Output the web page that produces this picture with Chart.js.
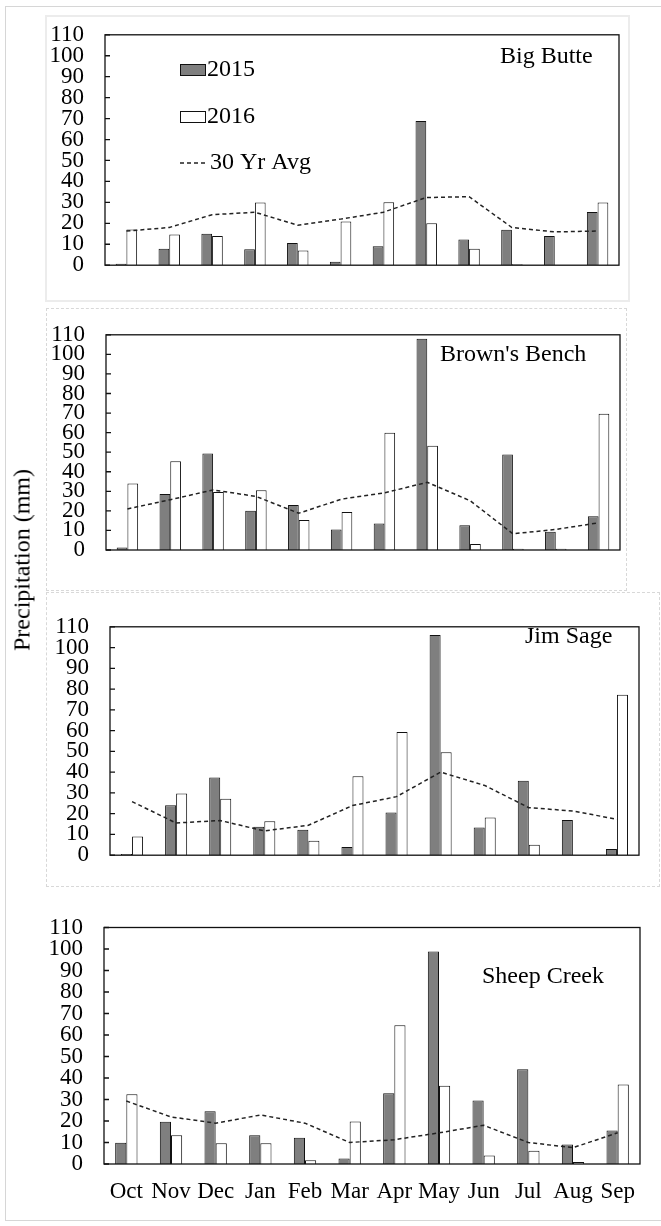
<!DOCTYPE html>
<html>
<head>
<meta charset="utf-8">
<script src="https://cdn.jsdelivr.net/npm/chart.js@4.4.1/dist/chart.umd.min.js"></script>
<style>
  body { margin:0; background:#fff; overflow:hidden; width:661px; height:1226px; position:relative; font-family:"Liberation Serif","DejaVu Serif",serif; }
  .marco { position:absolute; box-sizing:border-box; }
  canvas { position:absolute; left:0; }
  #ytitle { position:absolute; left:22px; top:560px; transform:translate(-50%,-50%) rotate(-90deg); font-size:24px; white-space:nowrap; color:#000; }
</style>
</head>
<body>
<div class="marco" style="left:5px;top:6px;width:700px;height:1215px;border:1px solid #d6d6d6"></div>
<div class="marco" style="left:45px;top:15px;width:585px;height:287px;border:2px solid #ececec"></div>
<div class="marco" style="left:46px;top:308px;width:581px;height:283px;border:1px dashed #d8d8d8"></div>
<div class="marco" style="left:46px;top:592px;width:614px;height:295px;border:1px dashed #d8d8d8"></div>
<canvas id="g1" width="661" height="300" style="top:0px"></canvas>
<canvas id="g2" width="661" height="292" style="top:300px"></canvas>
<canvas id="g3" width="661" height="298" style="top:592px"></canvas>
<canvas id="g4" width="661" height="336" style="top:890px"></canvas>
<div id="ytitle">Precipitation (mm)</div>
<script>
// Datos (mm)
var months = ["Oct", "Nov", "Dec", "Jan", "Feb", "Mar", "Apr", "May", "Jun", "Jul", "Aug", "Sep"];
var yTicksMax = 110;

var bigButte2015 = [0.7, 7.9, 15, 7.6, 10.6, 1.7, 9.1, 68.9, 12.3, 16.9, 14, 25.4];
var bigButte2016 = [17, 14.6, 14, 29.9, 7, 20.9, 30.1, 20, 7.9, 0.5, 0, 29.9];
var bigButteAvg = [16.3, 18, 24.1, 25.3, 19.1, 22, 25.3, 32.3, 32.7, 18, 15.9, 16.3];

var brownsBench2015 = [1.3, 28.6, 49.3, 20, 23, 10.5, 13.6, 108, 12.6, 48.8, 9.3, 17.2];
var brownsBench2016 = [34, 45.4, 29.7, 30.6, 15.3, 19.4, 59.9, 53.3, 3.1, 0.6, 0.6, 69.7];
var brownsBenchAvg = [21, 25.7, 30.7, 27.4, 18.8, 26, 29.2, 34.6, 25.2, 8.3, 10.5, 13.9];

var jimSage2015 = [0.6, 24, 37.4, 13.7, 12.2, 3.9, 20.6, 106, 13.4, 35.9, 17, 3];
var jimSage2016 = [9, 29.7, 27.2, 16.4, 7, 38, 59.3, 49.6, 18.1, 5, 0, 77.3];
var jimSageAvg = [25.8, 15.5, 16.7, 11.7, 14.4, 23.9, 28.2, 40, 33.6, 22.9, 21.3, 17.3];

var sheepCreek2015 = [9.9, 19.6, 24.5, 13.4, 12.2, 2.6, 32.9, 98.8, 29.5, 44.1, 9.1, 15.6];
var sheepCreek2016 = [32.4, 13.4, 9.7, 9.7, 1.7, 19.8, 64.5, 36.4, 4, 6.2, 0.9, 37];
var sheepCreekAvg = [29.3, 21.9, 19, 22.8, 19, 10, 11.3, 14.5, 18, 10, 7.6, 14.5];

var fuente = '"Liberation Serif", "DejaVu Serif", serif';

// Marco del area, ticks hacia dentro, titulo del panel y leyenda
var marcoPlugin = {
  id: "marco",
  afterDatasetsDraw: function (chart, args, opts) {
    var ctx = chart.ctx;
    var a = chart.chartArea;
    ctx.save();
    ctx.strokeStyle = "#111";
    ctx.lineWidth = 1.3;
    ctx.setLineDash([]);
    ctx.strokeRect(a.left, a.top, a.right - a.left, a.bottom - a.top);
    var ys = chart.scales.y;
    ctx.beginPath();
    for (let t of ys.ticks) {
      let py = ys.getPixelForValue(t.value);
      ctx.moveTo(a.left, py);
      ctx.lineTo(a.left + 5, py);
    }
    ctx.stroke();

    ctx.fillStyle = "#000";
    ctx.font = "24px " + fuente;
    ctx.textBaseline = "alphabetic";
    ctx.textAlign = "left";
    ctx.fillText(opts.title, opts.tx, opts.ty);

    if (opts.legend) {
      var filas = [70, 117, 163];
      ctx.textBaseline = "middle";
      chart.data.datasets.forEach(function (ds, i) {
        let y = filas[i];
        if (ds.type == "line") {
          ctx.strokeStyle = ds.borderColor;
          ctx.lineWidth = ds.borderWidth;
          ctx.setLineDash(ds.borderDash);
          ctx.beginPath();
          ctx.moveTo(180, y);
          ctx.lineTo(208, y);
          ctx.stroke();
          ctx.setLineDash([]);
          ctx.fillText(ds.label, 210, y);
        } else {
          ctx.fillStyle = ds.backgroundColor;
          ctx.fillRect(180, y - 6, 26, 12);
          ctx.strokeStyle = "#111";
          ctx.lineWidth = 1;
          ctx.strokeRect(180.5, y - 5.5, 25, 11);
          ctx.fillStyle = "#000";
          ctx.fillText(ds.label, 207, y);
        }
      });
    }
    ctx.restore();
  }
};

function crearPanel(id, p, d2015, d2016, avg) {
  var ctx = document.getElementById(id).getContext("2d");
  var alto = document.getElementById(id).height;
  var t = p.t - p.top, b = p.b - p.top;
  return new Chart(ctx, {
    type: "bar",
    data: {
      labels: months,
      datasets: [
        { label: "2015", data: d2015, backgroundColor: "#7f7f7f", borderColor: "#111", borderWidth: 1, order: 1, barPercentage: 1, categoryPercentage: 0.5 },
        { label: "2016", data: d2016, backgroundColor: "#ffffff", borderColor: "#111", borderWidth: 1, order: 1, barPercentage: 1, categoryPercentage: 0.5 },
        { type: "line", label: "30 Yr Avg", data: avg, borderColor: "#222", borderWidth: 1.5, borderDash: [4, 3], pointRadius: 0, fill: false, tension: 0, order: 0 }
      ]
    },
    options: {
      responsive: false,
      animation: false,
      devicePixelRatio: 1,
      layout: { padding: { top: t, left: 0, right: 661 - p.r, bottom: p.showX ? 0 : alto - b } },
      plugins: {
        legend: { display: false },
        tooltip: { enabled: false },
        marco: { title: p.title, tx: p.tx, ty: p.ty, legend: p.legend }
      },
      scales: {
        x: {
          display: p.showX,
          offset: true,
          grid: { display: false, drawTicks: false },
          border: { display: false },
          ticks: { color: "#000", font: { family: fuente, size: 23 }, padding: 14, maxRotation: 0, autoSkip: false },
          afterFit: function (s) { s.height = alto - b; }
        },
        y: {
          min: 0,
          max: yTicksMax,
          grid: { display: false, drawTicks: false },
          border: { display: false },
          ticks: { stepSize: 10, autoSkip: false, color: "#000", font: { family: fuente, size: 23 }, padding: 21 },
          afterFit: function (s) { s.width = p.l; }
        }
      }
    },
    plugins: [marcoPlugin]
  });
}

var panel1 = crearPanel("g1", { top: 0, l: 105, r: 619, t: 29, b: 285.5, title: "Big Butte", tx: 500, ty: 63, legend: true, showX: false }, bigButte2015, bigButte2016, bigButteAvg);
var panel2 = crearPanel("g2", { top: 300, l: 106, r: 620, t: 323, b: 571, title: "Brown's Bench", tx: 440, ty: 61, legend: false, showX: false }, brownsBench2015, brownsBench2016, brownsBenchAvg);
var panel3 = crearPanel("g3", { top: 592, l: 110, r: 639, t: 608, b: 873, title: "Jim Sage", tx: 525, ty: 51, legend: false, showX: false }, jimSage2015, jimSage2016, jimSageAvg);
var panel4 = crearPanel("g4", { top: 890, l: 104, r: 640, t: 927.5, b: 1164, title: "Sheep Creek", tx: 482, ty: 93, legend: false, showX: true }, sheepCreek2015, sheepCreek2016, sheepCreekAvg);
</script>
</body>
</html>
